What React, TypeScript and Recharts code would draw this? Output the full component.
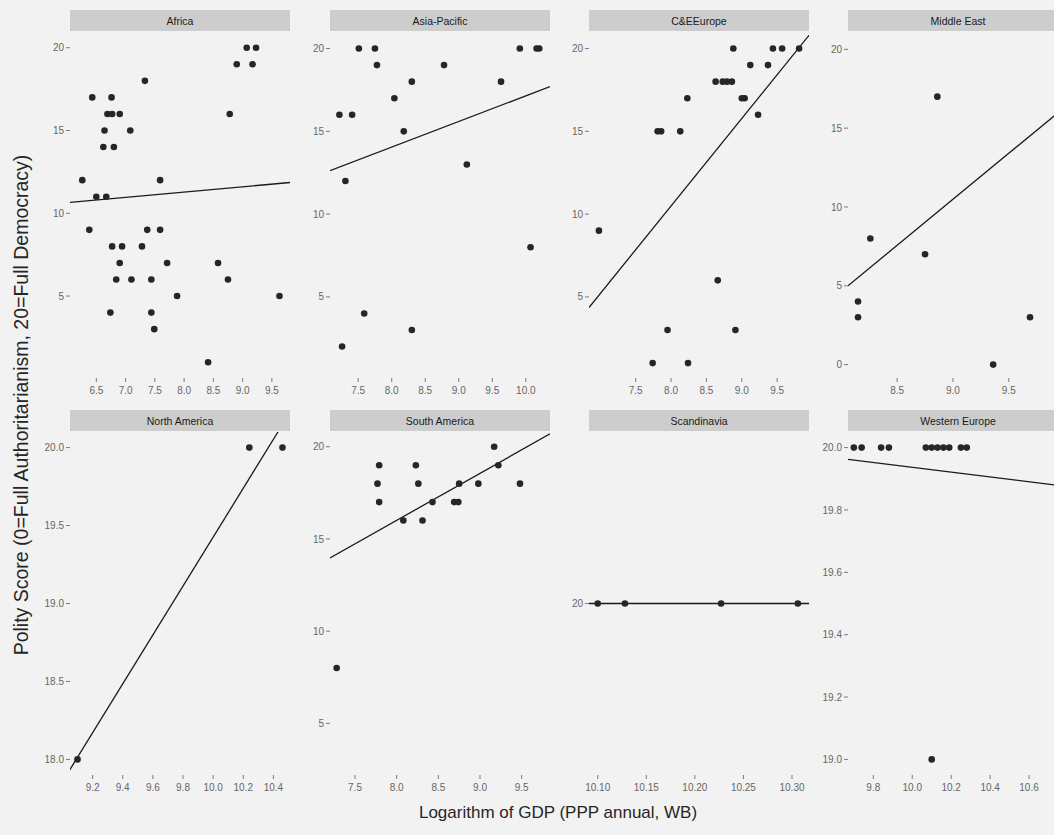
import React from 'react';
import { ScatterChart, Scatter, XAxis, YAxis } from 'recharts';

type Pt = { x: number; y: number };

// ---------- data ----------
const panelNames = [
  'Africa', 'Asia-Pacific', 'C&EEurope', 'Middle East',
  'North America', 'South America', 'Scandinavia', 'Western Europe',
];

const africaPoints: Pt[] = [
  { x: 9.07, y: 20 }, { x: 9.23, y: 20 }, { x: 8.9, y: 19 }, { x: 9.17, y: 19 },
  { x: 7.33, y: 18 }, { x: 6.43, y: 17 }, { x: 6.76, y: 17 }, { x: 6.69, y: 16 },
  { x: 6.77, y: 16 }, { x: 6.9, y: 16 }, { x: 8.78, y: 16 }, { x: 6.64, y: 15 },
  { x: 7.08, y: 15 }, { x: 6.62, y: 14 }, { x: 6.8, y: 14 }, { x: 6.26, y: 12 },
  { x: 7.59, y: 12 }, { x: 6.5, y: 11 }, { x: 6.67, y: 11 }, { x: 6.38, y: 9 },
  { x: 7.37, y: 9 }, { x: 7.59, y: 9 }, { x: 6.77, y: 8 }, { x: 6.94, y: 8 },
  { x: 7.28, y: 8 }, { x: 6.9, y: 7 }, { x: 7.71, y: 7 }, { x: 8.58, y: 7 },
  { x: 6.84, y: 6 }, { x: 7.1, y: 6 }, { x: 7.44, y: 6 }, { x: 8.75, y: 6 },
  { x: 7.88, y: 5 }, { x: 9.63, y: 5 }, { x: 6.74, y: 4 }, { x: 7.44, y: 4 },
  { x: 7.49, y: 3 }, { x: 8.41, y: 1 },
];
const africaFit: Pt[] = [{ x: 6.05, y: 10.66 }, { x: 9.81, y: 11.86 }];

const asiaPoints: Pt[] = [
  { x: 7.51, y: 20 }, { x: 7.75, y: 20 }, { x: 9.91, y: 20 }, { x: 10.16, y: 20 },
  { x: 10.2, y: 20 }, { x: 7.78, y: 19 }, { x: 8.78, y: 19 }, { x: 8.3, y: 18 },
  { x: 9.63, y: 18 }, { x: 8.04, y: 17 }, { x: 7.22, y: 16 }, { x: 7.41, y: 16 },
  { x: 8.18, y: 15 }, { x: 9.12, y: 13 }, { x: 7.31, y: 12 }, { x: 10.07, y: 8 },
  { x: 7.59, y: 4 }, { x: 8.3, y: 3 }, { x: 7.26, y: 2 },
];
const asiaFit: Pt[] = [{ x: 7.08, y: 12.62 }, { x: 10.36, y: 17.7 }];

const ceePoints: Pt[] = [
  { x: 8.88, y: 20 }, { x: 9.44, y: 20 }, { x: 9.57, y: 20 }, { x: 9.81, y: 20 },
  { x: 9.12, y: 19 }, { x: 9.37, y: 19 }, { x: 8.63, y: 18 }, { x: 8.73, y: 18 },
  { x: 8.79, y: 18 }, { x: 8.86, y: 18 }, { x: 8.23, y: 17 }, { x: 9.0, y: 17 },
  { x: 9.04, y: 17 }, { x: 9.23, y: 16 }, { x: 7.81, y: 15 }, { x: 7.86, y: 15 },
  { x: 8.13, y: 15 }, { x: 6.98, y: 9 }, { x: 8.66, y: 6 }, { x: 7.95, y: 3 },
  { x: 8.91, y: 3 }, { x: 7.74, y: 1 }, { x: 8.24, y: 1 },
];
const ceeFit: Pt[] = [{ x: 6.84, y: 4.36 }, { x: 9.95, y: 20.8 }];

const mePoints: Pt[] = [
  { x: 8.86, y: 17 }, { x: 8.26, y: 8 }, { x: 8.75, y: 7 }, { x: 8.15, y: 4 },
  { x: 8.15, y: 3 }, { x: 9.69, y: 3 }, { x: 9.36, y: 0 },
];
const meFit: Pt[] = [{ x: 8.06, y: 5.0 }, { x: 10.03, y: 16.5 }];

const naPoints: Pt[] = [{ x: 9.1, y: 18 }, { x: 10.24, y: 20 }, { x: 10.46, y: 20 }];
const naFit: Pt[] = [{ x: 9.04, y: 17.92 }, { x: 10.43, y: 20.1 }];

const saPoints: Pt[] = [
  { x: 9.17, y: 20 }, { x: 7.79, y: 19 }, { x: 8.23, y: 19 }, { x: 9.22, y: 19 },
  { x: 7.77, y: 18 }, { x: 8.26, y: 18 }, { x: 8.75, y: 18 }, { x: 8.98, y: 18 },
  { x: 9.48, y: 18 }, { x: 7.79, y: 17 }, { x: 8.43, y: 17 }, { x: 8.69, y: 17 },
  { x: 8.74, y: 17 }, { x: 8.08, y: 16 }, { x: 8.31, y: 16 }, { x: 7.28, y: 8 },
];
const saFit: Pt[] = [{ x: 7.2, y: 13.97 }, { x: 9.84, y: 20.7 }];

const scPoints: Pt[] = [
  { x: 10.1, y: 20 }, { x: 10.128, y: 20 }, { x: 10.227, y: 20 }, { x: 10.306, y: 20 },
];
const scFit: Pt[] = [{ x: 10.091, y: 20 }, { x: 10.3175, y: 20 }];

const wePoints: Pt[] = [
  { x: 9.7, y: 20 }, { x: 9.74, y: 20 }, { x: 9.84, y: 20 }, { x: 9.88, y: 20 },
  { x: 10.07, y: 20 }, { x: 10.1, y: 20 }, { x: 10.13, y: 20 }, { x: 10.16, y: 20 },
  { x: 10.19, y: 20 }, { x: 10.25, y: 20 }, { x: 10.28, y: 20 }, { x: 10.1, y: 19 },
];
const weFit: Pt[] = [{ x: 9.67, y: 19.962 }, { x: 10.8, y: 19.875 }];

// tick labels
const xTicksAfrica = [6.5, 7.0, 7.5, 8.0, 8.5, 9.0, 9.5];
const xTicksAsia = [7.5, 8.0, 8.5, 9.0, 9.5, 10.0];
const xTicksCee = [7.5, 8.0, 8.5, 9.0, 9.5];
const xTicksMe = [8.5, 9.0, 9.5];
const xTicksNa = [9.2, 9.4, 9.6, 9.8, 10.0, 10.2, 10.4];
const xTicksSa = [7.5, 8.0, 8.5, 9.0, 9.5];
const xTicksSc = [10.1, 10.15, 10.2, 10.25, 10.3];
const xTicksWe = [9.8, 10.0, 10.2, 10.4, 10.6];
const yTicksScore = [5, 10, 15, 20];
const yTicksMe = [0, 5, 10, 15, 20];
const yTicksNa = [18.0, 18.5, 19.0, 19.5, 20.0];
const yTicksSc = [20];
const yTicksWe = [19.0, 19.2, 19.4, 19.6, 19.8, 20.0];

// ---------- panel configuration ----------
type PanelCfg = {
  name: string; points: Pt[]; fit: Pt[];
  xDomain: [number, number]; yDomain: [number, number];
  xTicks: number[]; yTicks: number[]; xDec: number; yDec: number;
  col: number; row: number;
};

const panels: PanelCfg[] = [
  { name: panelNames[0], points: africaPoints, fit: africaFit, xDomain: [6.05, 9.81], yDomain: [0.05, 20.95], xTicks: xTicksAfrica, yTicks: yTicksScore, xDec: 1, yDec: 0, col: 0, row: 0 },
  { name: panelNames[1], points: asiaPoints, fit: asiaFit, xDomain: [7.08, 10.36], yDomain: [0.1, 21.0], xTicks: xTicksAsia, yTicks: yTicksScore, xDec: 1, yDec: 0, col: 1, row: 0 },
  { name: panelNames[2], points: ceePoints, fit: ceeFit, xDomain: [6.84, 9.95], yDomain: [0.1, 21.0], xTicks: xTicksCee, yTicks: yTicksScore, xDec: 1, yDec: 0, col: 2, row: 0 },
  { name: panelNames[3], points: mePoints, fit: meFit, xDomain: [8.06, 10.03], yDomain: [-0.85, 21.1], xTicks: xTicksMe, yTicks: yTicksMe, xDec: 1, yDec: 0, col: 3, row: 0 },
  { name: panelNames[4], points: naPoints, fit: naFit, xDomain: [9.05, 10.51], yDomain: [17.9, 20.1], xTicks: xTicksNa, yTicks: yTicksNa, xDec: 1, yDec: 1, col: 0, row: 1 },
  { name: panelNames[5], points: saPoints, fit: saFit, xDomain: [7.2, 9.84], yDomain: [2.2, 20.8], xTicks: xTicksSa, yTicks: yTicksScore, xDec: 1, yDec: 0, col: 1, row: 1 },
  { name: panelNames[6], points: scPoints, fit: scFit, xDomain: [10.091, 10.3175], yDomain: [19.5, 20.5], xTicks: xTicksSc, yTicks: yTicksSc, xDec: 2, yDec: 0, col: 2, row: 1 },
  { name: panelNames[7], points: wePoints, fit: weFit, xDomain: [9.67, 10.8], yDomain: [18.95, 20.05], xTicks: xTicksWe, yTicks: yTicksWe, xDec: 1, yDec: 1, col: 3, row: 1 },
];

// ---------- layout ----------
const COL_LEFT = [70, 330, 589, 848];
const ROW_TOP = [32, 432];
const ROW_H = [346, 343];
const PANEL_W = 220;
const STRIP_H = 21;
const Y_AXIS_W = 44;
const X_AXIS_H = 30;
const FONT = '"Liberation Sans", Arial, Helvetica, sans-serif';

const Dot = (props: any) => {
  const { cx, cy } = props;
  if (cx == null || cy == null) return <g />;
  return <circle cx={cx} cy={cy} r={3.3} fill="#262626" />;
};
const NoShape = () => <g />;

function Panel({ cfg }: { cfg: PanelCfg }) {
  const left = COL_LEFT[cfg.col];
  const top = ROW_TOP[cfg.row];
  const h = ROW_H[cfg.row];
  return (
    <>
      <div
        style={{
          position: 'absolute', left, top: top - STRIP_H - 1, width: PANEL_W, height: STRIP_H,
          background: '#cdcdcd', display: 'flex', alignItems: 'center', justifyContent: 'center',
          fontSize: 10.5, color: '#1a1a1a', fontFamily: FONT,
        }}
      >
        {cfg.name}
      </div>
      <div style={{ position: 'absolute', left: left - Y_AXIS_W, top }}>
        <ScatterChart
          width={PANEL_W + Y_AXIS_W}
          height={h + X_AXIS_H}
          margin={{ top: 0, right: 0, bottom: 0, left: 0 }}
          style={{ fontFamily: FONT }}
        >
          <XAxis
            type="number" dataKey="x" domain={cfg.xDomain} ticks={cfg.xTicks}
            allowDataOverflow interval={0} axisLine={false}
            tickLine={{ stroke: '#7a7a7a' }} tickSize={4} tickMargin={5}
            height={X_AXIS_H} tick={{ fontSize: 10, fill: '#666666' }}
            tickFormatter={(v: number) => v.toFixed(cfg.xDec)}
          />
          <YAxis
            type="number" dataKey="y" domain={cfg.yDomain} ticks={cfg.yTicks}
            allowDataOverflow interval={0} axisLine={false}
            tickLine={{ stroke: '#7a7a7a' }} tickSize={4} tickMargin={2}
            width={Y_AXIS_W} tick={{ fontSize: 10, fill: '#666666' }}
            tickFormatter={(v: number) => v.toFixed(cfg.yDec)}
          />
          <Scatter
            data={cfg.fit} line={{ stroke: '#1a1a1a', strokeWidth: 1.3 }}
            shape={NoShape} isAnimationActive={false} legendType="none"
          />
          <Scatter data={cfg.points} shape={Dot} isAnimationActive={false} />
        </ScatterChart>
      </div>
    </>
  );
}

export default function App() {
  return (
    <div
      style={{
        position: 'absolute', left: 0, top: 0, width: 1054, height: 835,
        overflow: 'hidden', background: '#f2f2f2', fontFamily: FONT,
      }}
    >
      {panels.map((p) => (
        <Panel key={p.name} cfg={p} />
      ))}
      <div
        style={{
          position: 'absolute', left: 21, top: 405, width: 700, textAlign: 'center',
          transform: 'translate(-50%, -50%) rotate(-90deg)', fontSize: 19.5, color: '#262626',
          whiteSpace: 'nowrap',
        }}
      >
        Polity Score (0=Full Authoritarianism, 20=Full Democracy)
      </div>
      <div
        style={{
          position: 'absolute', left: 558, top: 813, transform: 'translate(-50%, -50%)',
          fontSize: 17, color: '#262626', whiteSpace: 'nowrap',
        }}
      >
        Logarithm of GDP (PPP annual, WB)
      </div>
    </div>
  );
}
